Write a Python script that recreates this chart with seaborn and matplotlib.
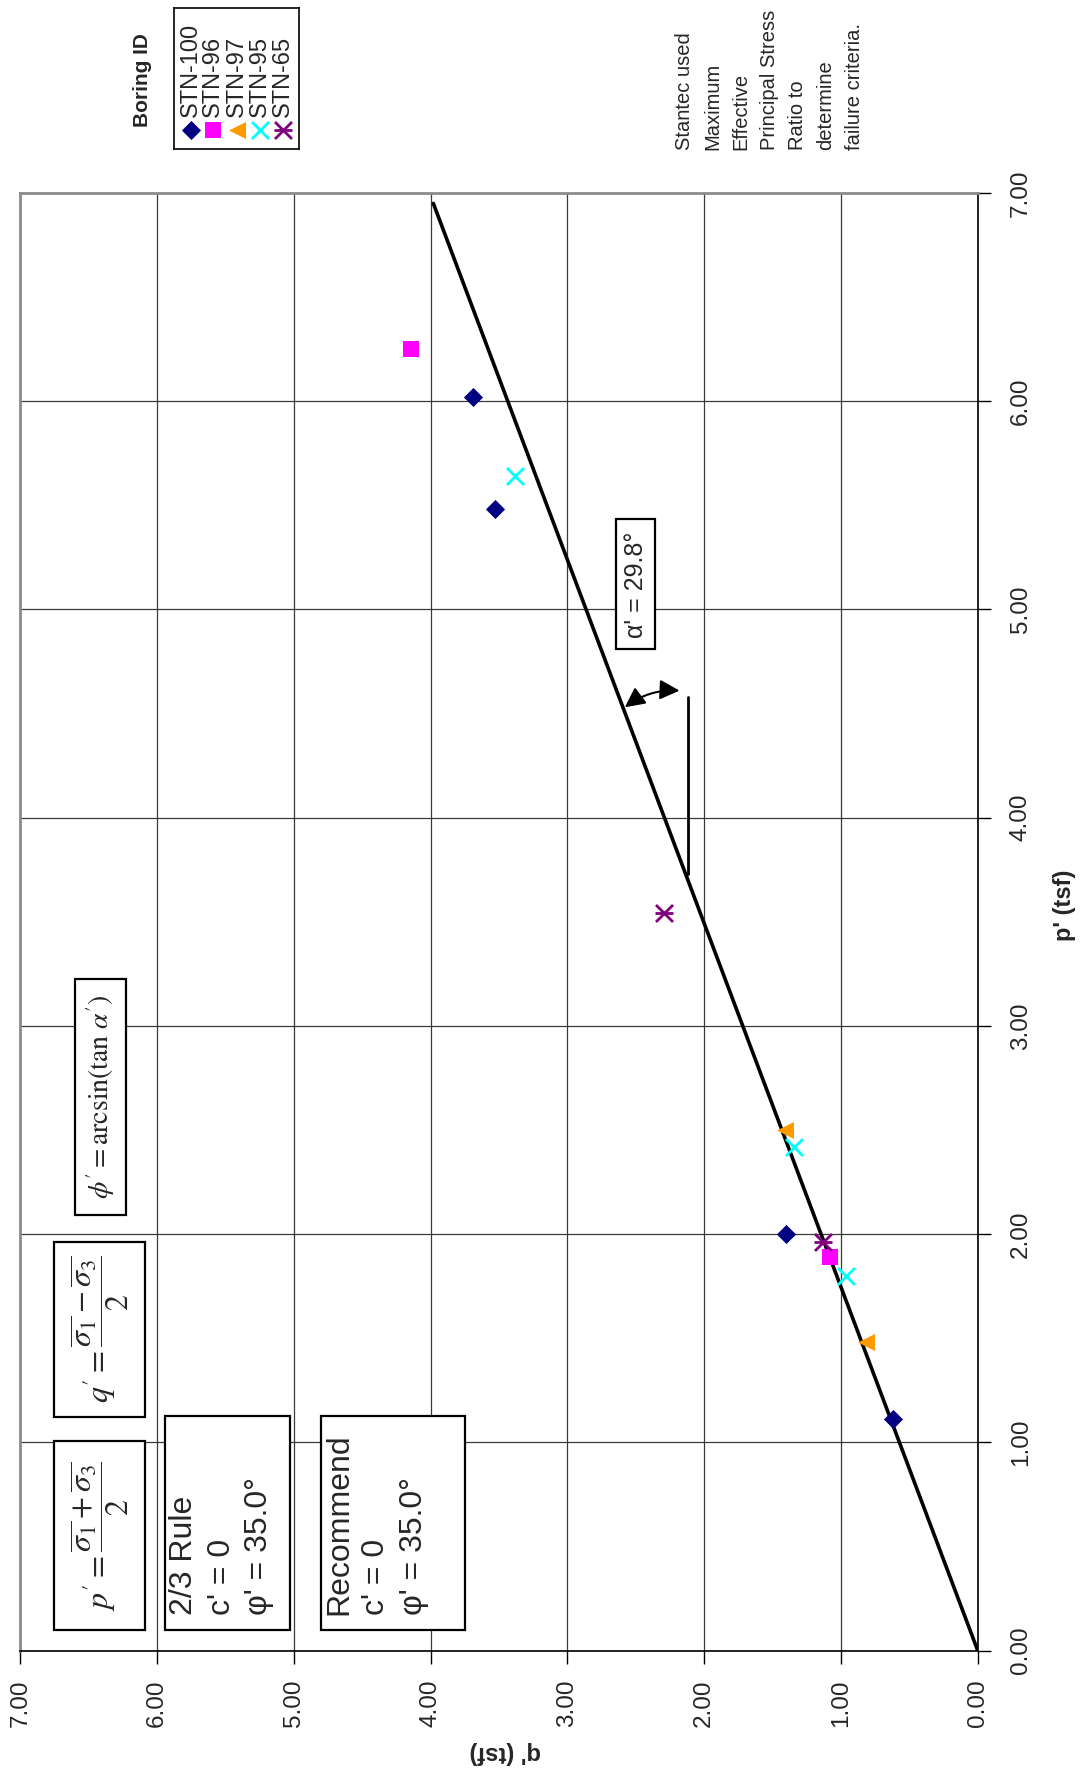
import matplotlib
matplotlib.use("Agg")
import matplotlib.pyplot as plt
import seaborn as sns
import pandas as pd
from matplotlib.patches import Rectangle

# values: p' (tsf) runs up the page, q' (tsf) across it
borings = ["STN-100", "STN-96", "STN-97", "STN-95", "STN-65"]
stn100_p = [1.11, 2.00, 5.48, 6.02]
stn100_q = [0.62, 1.40, 3.53, 3.69]
stn96_p = [1.89, 6.25]
stn96_q = [1.08, 4.14]
stn97_p = [1.48, 2.50]
stn97_q = [0.82, 1.41]
stn95_p = [1.80, 2.42, 5.64]
stn95_q = [0.96, 1.34, 3.38]
stn65_p = [1.96, 3.54]
stn65_q = [1.13, 2.29]

# failure line (alpha' = 29.8 deg)
fit_p = [0.0, 6.95]
fit_q = [0.0, 3.98]

ticks = [0, 1, 2, 3, 4, 5, 6, 7]
tick_labels = ["0.00", "1.00", "2.00", "3.00", "4.00", "5.00", "6.00", "7.00"]

colors = ["#000080", "#FF00FF", "#FF9900", "#00FFFF", "#800080"]
markers = ["D", "s", "<", "x", "x"]
sizes = [95, 140, 150, 150, 150]

df = pd.concat([
    pd.DataFrame({"p": p, "q": q, "boring": b})
    for b, p, q in zip(borings,
                       [stn100_p, stn96_p, stn97_p, stn95_p, stn65_p],
                       [stn100_q, stn96_q, stn97_q, stn95_q, stn65_q])
])

sns.set_style("ticks")
plt.rcParams["font.family"] = ["Liberation Sans", "DejaVu Sans"]

W, H = 1083, 1776
fig = plt.figure(figsize=(W / 100, H / 100), dpi=100)


def fx(px):
    return px / W


def fy(py):
    return 1 - py / H


ax = fig.add_axes([fx(20.3), fy(1650.5), 957.4 / W, 1457.5 / H])
ax.set_xlim(7, 0)
ax.set_ylim(0, 7)

ax.grid(True, color="#3a3a3a", lw=0.9)
ax.set_axisbelow(True)

# failure envelope
sns.lineplot(x=fit_q, y=fit_p, color="black", lw=2.6, ax=ax, zorder=4,
             sort=False, estimator=None)

# test points
for b, c, m, s in zip(borings, colors, markers, sizes):
    sub = df[df["boring"] == b]
    if m == "x":
        sns.scatterplot(data=sub, x="q", y="p", marker="x", color=c, s=s,
                        linewidth=2, ax=ax, zorder=5, legend=False)
    else:
        sns.scatterplot(data=sub, x="q", y="p", marker=m, color=c, s=s,
                        edgecolor=c, linewidth=0, ax=ax, zorder=5, legend=False)
    if b == "STN-65":
        sns.scatterplot(data=sub, x="q", y="p", marker="_", color=c, s=s,
                        linewidth=2, ax=ax, zorder=5, legend=False)

# axes / ticks
ax.set_xticks(ticks)
ax.set_xticklabels(tick_labels, rotation=90)
ax.yaxis.tick_right()
ax.set_yticks(ticks)
ax.set_yticklabels(tick_labels, rotation=90, va="center")
ax.tick_params(direction="out", length=9, width=1, labelsize=17.5, color="black")
ax.tick_params(axis="x", pad=12)
ax.tick_params(axis="y", pad=14)

for side in ["bottom", "right"]:
    ax.spines[side].set_color("black")
    ax.spines[side].set_linewidth(1.2)
for side in ["top", "left"]:
    ax.spines[side].set_color("#8c8c8c")
    ax.spines[side].set_linewidth(2)

ax.set_xlabel("q' (tsf)", fontsize=17, fontweight="bold", rotation=180,
              ha="center", va="center")
ax.xaxis.set_label_coords(0.507, -0.0703)
ax.yaxis.set_label_position("right")
ax.set_ylabel("p' (tsf)", fontsize=17, fontweight="bold", rotation=90,
              ha="center", va="center")
ax.yaxis.set_label_coords(1.091, 0.511)

# boxes with formulas and notes
boxes = [
    (6.23, 6.60, 2.093, 3.226),
    (6.085, 6.75, 1.123, 1.964),
    (6.085, 6.75, 0.097, 1.004),
    (5.03, 5.94, 0.10, 1.127),
    (3.75, 4.805, 0.10, 1.127),
    (2.356, 2.641, 4.81, 5.433),
]
for q0, q1, p0, p1 in boxes:
    ax.add_patch(Rectangle((q0, p0), q1 - q0, p1 - p0, fc="white", ec="black",
                           lw=1.6, zorder=3))

ax.text(6.415, 2.66, r"$\phi^{\prime} = \arcsin(\tan\,\alpha^{\prime})$",
        rotation=90, ha="center", va="center", fontsize=20,
        math_fontfamily="stix", zorder=6)
ax.text(6.42, 1.54,
        r"$q^{\prime} = \dfrac{\overline{\sigma_1} - \overline{\sigma_3}}{2}$",
        rotation=90, ha="center", va="center", fontsize=23,
        math_fontfamily="stix", zorder=6)
ax.text(6.42, 0.55,
        r"$p^{\prime} = \dfrac{\overline{\sigma_1} + \overline{\sigma_3}}{2}$",
        rotation=90, ha="center", va="center", fontsize=23,
        math_fontfamily="stix", zorder=6)

ax.text(5.91, 0.17, "2/3 Rule\nc' = 0\nφ' = 35.0°", rotation=90, ha="left",
        va="bottom", multialignment="left", fontsize=23, linespacing=1.32,
        zorder=6)
ax.text(4.78, 0.17, "Recommend\nc' = 0\nφ' = 35.0°", rotation=90, ha="left",
        va="bottom", multialignment="left", fontsize=23, linespacing=1.32,
        zorder=6)
ax.text(2.50, 5.12, "α' = 29.8°", rotation=90, ha="center", va="center",
        fontsize=18, zorder=6)

# angle sketch
ax.plot([2.12, 2.12], [3.73, 4.58], color="black", lw=2, zorder=4)
ax.annotate("", xy=(2.58, 4.53), xytext=(2.18, 4.61),
            arrowprops=dict(arrowstyle="<|-|>,head_length=1.0,head_width=0.5",
                            connectionstyle="arc3,rad=0.18", color="black",
                            lw=1.5, shrinkA=0, shrinkB=0, mutation_scale=12),
            zorder=6)

# note
note = ("Stantec used\nMaximum\nEffective\nPrincipal Stress\nRatio to\n"
        "determine\nfailure criteria.")
fig.text(fx(675), fy(150), note, rotation=90, ha="left", va="bottom",
         multialignment="left", fontsize=14.5, linespacing=1.62)

# legend (rotated like the rest of the page)
fig.text(fx(142), fy(80), "Boring ID", rotation=90, ha="center", va="center",
         fontsize=15, fontweight="bold")
lax = fig.add_axes([fx(174), fy(149), 125 / W, 141 / H])
lax.set_xlim(174, 299)
lax.set_ylim(149, 8)
lax.set_xticks([])
lax.set_yticks([])
for sp in lax.spines.values():
    sp.set_color("black")
    sp.set_linewidth(1.2)
leg_x = [190.7, 213.3, 236.7, 260.0, 283.3]
for x, b, c, m, s in zip(leg_x, borings, colors, markers, sizes):
    if m == "x":
        lax.scatter([x], [130], marker="x", color=c, s=s, linewidths=2)
    else:
        lax.scatter([x], [130], marker=m, color=c, s=s, linewidths=0)
    if b == "STN-65":
        lax.scatter([x], [130], marker="_", color=c, s=s, linewidths=2)
    lax.text(x, 117, b, rotation=90, ha="center", va="bottom", fontsize=17)

fig.savefig("out.png", dpi=100)
